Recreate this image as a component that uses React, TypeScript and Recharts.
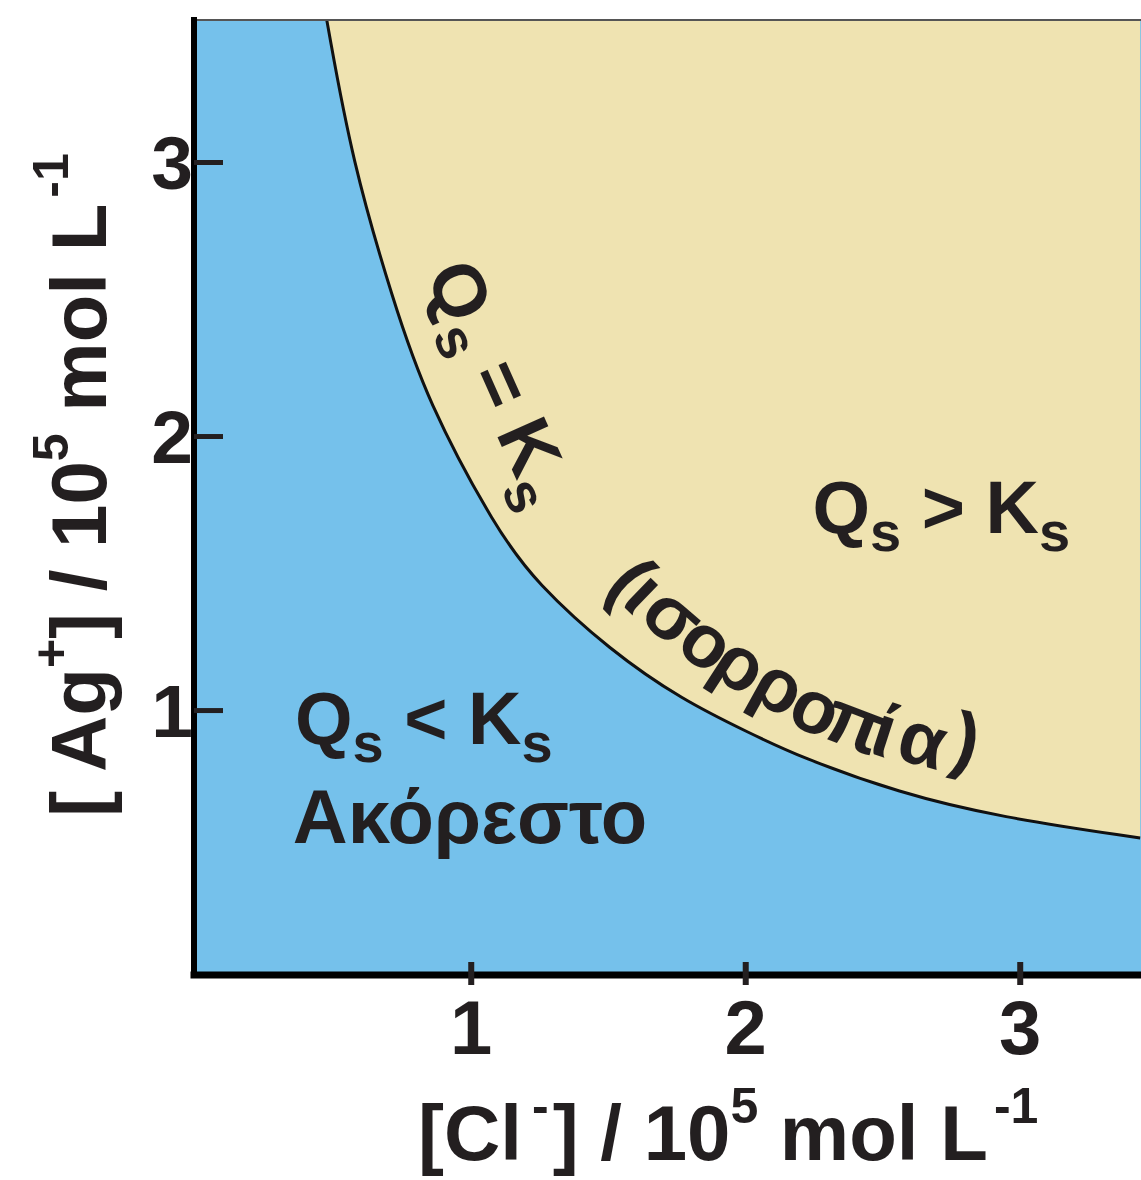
import React from "react";
import {
  ComposedChart,
  Area,
  XAxis,
  YAxis,
  CartesianGrid,
  ReferenceDot,
  ReferenceLine,
} from "recharts";

// ---- data ----
// [Cl-] / 10^5 mol L-1 along the equilibrium curve Qs = Ks
const clValues = [0.474, 0.567, 0.715, 0.838, 1.093, 1.238, 1.504, 1.77, 2.014, 2.196, 2.56, 2.924, 3.437];
// [Ag+] / 10^5 mol L-1 along the same curve
const agValues = [3.518, 3.0, 2.497, 2.132, 1.658, 1.465, 1.221, 1.038, 0.918, 0.831, 0.699, 0.611, 0.535];

const xTicks = [1, 2, 3];
const yTicks = [1, 2, 3];
const xDomain = [-0.01, 3.44];
const yDomain = [0.035, 3.52];

// curved label "(ισορροπία)": characters, their positions (data units) and tilt
const arcChars = ["(", "ι", "σ", "ο", "ρ", "ρ", "ο", "π", "ί", "α", ")"];
const arcX = [1.566, 1.617, 1.722, 1.846, 1.97, 2.112, 2.247, 2.392, 2.5, 2.64, 2.8];
const arcY = [1.465, 1.418, 1.33, 1.232, 1.152, 1.072, 0.99, 0.935, 0.905, 0.872, 0.87];
const arcRot = [46, 44, 41, 37, 33, 29, 25, 21, 18, 15, 13];

const chartData = clValues.map((cl, i) => ({ cl, ag: agValues[i] }));

const BLUE = "#75C1EB";
const BEIGE = "#EFE3B1";
const INK = "#231F20";
const FONT = "'Liberation Sans', Arial, Helvetica, sans-serif";

const XTick = (props: any) => {
  const { x, y, payload } = props;
  return (
    <g>
      <line x1={x} x2={x} y1={y - 13} y2={y + 10} stroke={INK} strokeWidth={6} />
      <text x={x} y={y + 79} textAnchor="middle" fontFamily={FONT} fontWeight="bold" fontSize={76} fill={INK}>
        {payload.value}
      </text>
    </g>
  );
};

const YTick = (props: any) => {
  const { x, y, payload } = props;
  return (
    <g>
      <line x1={x} x2={x + 29} y1={y} y2={y} stroke={INK} strokeWidth={5} />
      <text x={x - 1} y={y} dy="0.358em" textAnchor="end" fontFamily={FONT} fontWeight="bold" fontSize={75} fill={INK}>
        {payload.value}
      </text>
    </g>
  );
};

const XTitle = (props: any) => {
  const vb = props.viewBox || { x: 194, y: 975 };
  const x = vb.x + 224;
  const y = vb.y + 185;
  return (
    <text x={x} y={y} fontFamily={FONT} fontWeight="bold" fontSize={78} fill={INK}>
      [Cl
      <tspan dx={10} dy={-37} fontSize={50}>-</tspan>
      <tspan dx={4} dy={37}>] / 10</tspan>
      <tspan dy={-37} fontSize={50}>5</tspan>
      <tspan dy={37}> mol L</tspan>
      <tspan dx={6} dy={-37} fontSize={50}>-1</tspan>
    </text>
  );
};

const YTitle = (props: any) => {
  const cx = 106;
  const cy = 485;
  return (
    <text
      x={cx}
      y={cy}
      transform={`rotate(-90 ${cx} ${cy})`}
      textAnchor="middle"
      fontFamily={FONT}
      fontWeight="bold"
      fontSize={78}
      fill={INK}
    >
      [ Ag
      <tspan dy={-38} fontSize={50}>+</tspan>
      <tspan dy={38}>] / 10</tspan>
      <tspan dy={-38} fontSize={50}>5</tspan>
      <tspan dy={38}> mol L</tspan>
      <tspan dx={6} dy={-38} fontSize={50}>-1</tspan>
    </text>
  );
};

const subProps = { fontSize: 56 };

const QsLess = (p: any) => (
  <text x={p.cx} y={p.cy} fontFamily={FONT} fontWeight="bold" fontSize={74} fill={INK}>
    Q<tspan dy={18} {...subProps}>s</tspan>
    <tspan dy={-18}> &lt; K</tspan>
    <tspan dy={18} {...subProps}>s</tspan>
  </text>
);

const Unsat = (p: any) => (
  <text x={p.cx} y={p.cy} fontFamily={FONT} fontWeight="bold" fontSize={76} fill={INK}>
    Ακόρεστο
  </text>
);

const QsGreater = (p: any) => (
  <text x={p.cx} y={p.cy} fontFamily={FONT} fontWeight="bold" fontSize={74} fill={INK}>
    Q<tspan dy={18} {...subProps}>s</tspan>
    <tspan dy={-18}> &gt; K</tspan>
    <tspan dy={18} {...subProps}>s</tspan>
  </text>
);

const QsEqual = (p: any) => (
  <g transform={`translate(${p.cx} ${p.cy}) rotate(66)`}>
    <text x={0} y={0} textAnchor="middle" fontFamily={FONT} fontWeight="bold" fontSize={74} fill={INK}>
      Q<tspan dy={18} {...subProps}>s</tspan>
      <tspan dy={-18}> = K</tspan>
      <tspan dy={18} {...subProps}>s</tspan>
    </text>
  </g>
);

const arcCharShape = (i: number) => (p: any) => (
  <text
    x={p.cx}
    y={p.cy}
    dy="0.26em"
    transform={`rotate(${arcRot[i]} ${p.cx} ${p.cy})`}
    textAnchor="middle"
    fontFamily={FONT}
    fontWeight="bold"
    fontSize={75}
    fill={INK}
  >
    {arcChars[i]}
  </text>
);

export default function App() {
  return (
    <div style={{ position: "absolute", left: 0, top: 0, width: 1141, height: 1180, background: "#fff" }}>
      <ComposedChart
        width={1141}
        height={1180}
        data={chartData}
        margin={{ top: 20, right: 0, bottom: 0, left: 0 }}
      >
        <CartesianGrid horizontal={false} vertical={false} fill={BLUE} fillOpacity={1} stroke="none" />
        <XAxis
          dataKey="cl"
          type="number"
          domain={xDomain}
          ticks={xTicks}
          allowDataOverflow
          height={205}
          tickSize={0}
          tickMargin={0}
          tickLine={false}
          axisLine={{ stroke: "#000", strokeWidth: 7, strokeLinecap: "square" }}
          tick={<XTick />}
          label={{ content: (props: any) => <XTitle {...props} /> }}
        />
        <YAxis
          type="number"
          domain={yDomain}
          ticks={yTicks}
          allowDataOverflow
          width={194}
          tickSize={0}
          tickMargin={0}
          tickLine={false}
          axisLine={{ stroke: "#000", strokeWidth: 6, strokeLinecap: "square" }}
          tick={<YTick />}
          label={{ content: (props: any) => <YTitle {...props} /> }}
        />
        <Area
          type="basis"
          dataKey="ag"
          baseValue={3.52}
          fill={BEIGE}
          fillOpacity={1}
          stroke="#111"
          strokeWidth={3}
          isAnimationActive={false}
          dot={false}
          activeDot={false}
        />
        <ReferenceLine y={3.52} stroke="#555" strokeWidth={2} />
        <ReferenceDot x={0.358} y={0.878} r={0} shape={QsLess} />
        <ReferenceDot x={0.35} y={0.517} r={0} shape={Unsat} />
        <ReferenceDot x={2.243} y={1.647} r={0} shape={QsGreater} />
        <ReferenceDot x={1.0226} y={2.161} r={0} shape={QsEqual} />
        {arcChars.map((c, i) => (
          <ReferenceDot key={i} x={arcX[i]} y={arcY[i]} r={0} shape={arcCharShape(i)} />
        ))}
      </ComposedChart>
    </div>
  );
}
